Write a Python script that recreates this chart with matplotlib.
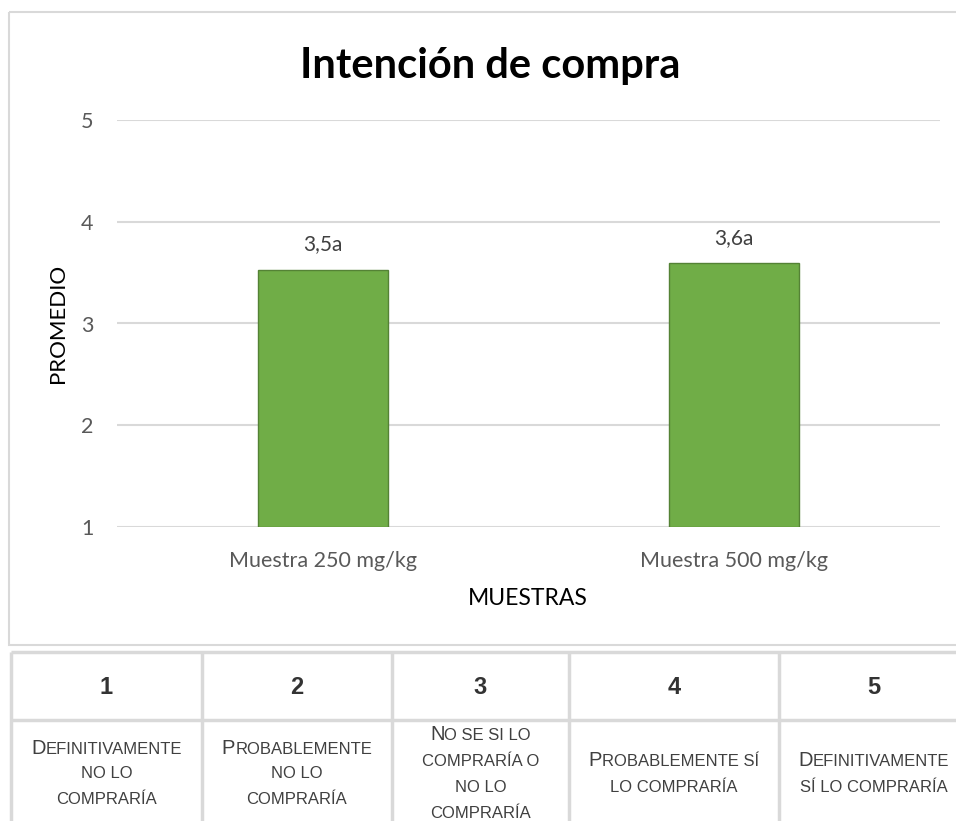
import matplotlib
matplotlib.use('Agg')
from matplotlib import pyplot as plt
from matplotlib.patches import Rectangle
from matplotlib.offsetbox import TextArea, HPacker, AnnotationBbox

# bar chart data
samples = ['Muestra 250 mg/kg', 'Muestra 500 mg/kg']
means = [3.53, 3.59]
letters = ['a', 'a']
y_ticks = [1, 2, 3, 4, 5]

# rating scale shown in the table under the chart
scale_numbers = ['1', '2', '3', '4', '5']
scale_text = [
    ['Definitivamente', 'no lo', 'compraría'],
    ['Probablemente', 'no lo', 'compraría'],
    ['No se si lo', 'compraría o', 'no lo', 'compraría'],
    ['Probablemente sí', 'lo compraría'],
    ['Definitivamente', 'sí lo compraría'],
]

W, H = 956, 821
fig = plt.figure(figsize=(W / 100, H / 100), dpi=100)
fig.patch.set_facecolor('white')

grey_line = '#d9d9d9'
label_grey = '#595959'

# background layer in pixel coordinates for frame and table
bg = fig.add_axes([0, 0, 1, 1])
bg.set_xlim(0, W)
bg.set_ylim(H, 0)
bg.axis('off')
bg.add_patch(Rectangle((9, 12), 980, 633, fill=False, edgecolor=grey_line, lw=1.5))

# chart axes
left, right, top, bottom = 117, 940, 120, 527
ax = fig.add_axes([left / W, 1 - bottom / H, (right - left) / W, (bottom - top) / H])
ax.set_facecolor('none')
x = list(range(len(samples)))
bars = ax.bar(x, [m - 1 for m in means], bottom=1, width=0.316,
              color='#70ad47', edgecolor='#548235', lw=1, zorder=3)
ax.set_xlim(-0.5, len(samples) - 0.5)
ax.set_ylim(1, 5)
ax.set_yticks(y_ticks)
ax.set_xticks(x)
ax.set_xticklabels(samples)
for s in ax.spines.values():
    s.set_visible(False)
ax.tick_params(length=0, labelsize=15.5, labelcolor=label_grey)
ax.tick_params(axis='x', pad=17)
ax.tick_params(axis='y', pad=17)
for lab in ax.get_xticklabels() + ax.get_yticklabels():
    lab.set_family('Lato')
ax.grid(axis='y', color=grey_line, lw=1.5, zorder=0)

for xi, m, let in zip(x, means, letters):
    txt = ('%.1f' % m).replace('.', ',') + let
    ax.annotate(txt, (xi, m), xytext=(0, 18), textcoords='offset points',
                ha='center', va='center', fontsize=15, color='#404040', family='Lato')

fig.text(490 / W, 1 - 66 / H, 'Intención de compra', ha='center', va='center',
         fontsize=30, fontweight='bold', family='Lato', color='black')
fig.text(58 / W, 1 - 323 / H, 'PROMEDIO', ha='center', va='center', rotation=90,
         fontsize=16, family='Lato', color='black')
fig.text(528 / W, 1 - 598 / H, 'MUESTRAS', ha='center', va='center',
         fontsize=16.5, family='Lato', color='black')

# table grid
col_x = [11, 202, 392, 569, 779, 969]
row_y = [652, 720, 830]
tline = dict(color=grey_line, lw=2.5, solid_capstyle='butt')
for cx in col_x:
    bg.plot([cx, cx], [row_y[0], row_y[-1]], **tline)
for ry in row_y:
    bg.plot([col_x[0], col_x[-1]], [ry, ry], **tline)

for i, num in enumerate(scale_numbers):
    cx = (col_x[i] + col_x[i + 1]) / 2
    bg.text(cx, (row_y[0] + row_y[1]) / 2 + 1, num, ha='center', va='center',
            fontsize=17, fontweight='bold', family='Liberation Sans', color='#333333')


def small_caps(line, big=14.5, small=12):
    # split into runs of original capitals (full size) and the rest (small caps)
    runs = []
    for ch in line:
        size = big if ch.isupper() else small
        if runs and runs[-1][1] == size:
            runs[-1][0] += ch.upper()
        else:
            runs.append([ch.upper(), size])
    parts = [TextArea(t, textprops=dict(size=s, color='#404040', family='Liberation Sans'))
             for t, s in runs]
    return HPacker(children=parts, align='baseline', pad=0, sep=0)


line_step = 26
for i, lines in enumerate(scale_text):
    cx = (col_x[i] + col_x[i + 1]) / 2
    mid = 774
    n = len(lines)
    for j, line in enumerate(lines):
        cy = mid + (j - (n - 1) / 2) * line_step
        ab = AnnotationBbox(small_caps(line), (cx, cy), xycoords='data', frameon=False,
                            box_alignment=(0.5, 0.5), pad=0)
        bg.add_artist(ab)

fig.savefig('out.png', dpi=100, facecolor='white')
